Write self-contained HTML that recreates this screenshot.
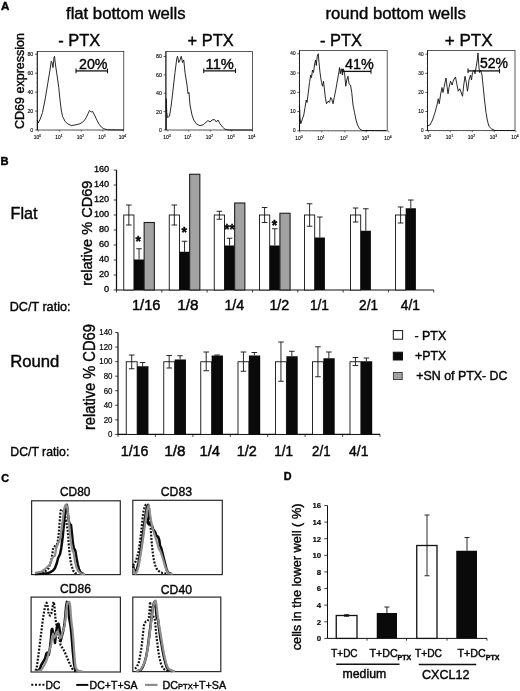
<!DOCTYPE html>
<html><head><meta charset="utf-8"><title>Figure</title>
<style>
html,body{margin:0;padding:0;background:#fff;}
body{width:520px;height:691px;overflow:hidden;font-family:"Liberation Sans",sans-serif;}
svg{display:block;font-family:"Liberation Sans",sans-serif;filter:grayscale(1) blur(0.35px);}
svg text{fill:#050505;stroke:#050505;stroke-width:0.4px;}
svg text.s{stroke-width:0.12px;}
</style></head><body>
<svg width="520" height="691" viewBox="0 0 520 691" fill="#111">
<rect width="520" height="691" fill="#fff"/>
<text x="1.00" y="10.30" font-size="10.8" font-weight="bold" textLength="8.40" lengthAdjust="spacingAndGlyphs">A</text>
<text x="66.00" y="19.30" font-size="16" textLength="119.50" lengthAdjust="spacingAndGlyphs">flat bottom wells</text>
<text x="325.50" y="19.30" font-size="16" textLength="140.30" lengthAdjust="spacingAndGlyphs">round bottom wells</text>
<text x="58.20" y="46.30" font-size="16" textLength="42.00" lengthAdjust="spacingAndGlyphs">- PTX</text>
<text x="187.60" y="45.50" font-size="16" textLength="46.00" lengthAdjust="spacingAndGlyphs">+ PTX</text>
<text x="320.00" y="45.80" font-size="16" textLength="42.00" lengthAdjust="spacingAndGlyphs">- PTX</text>
<text x="444.80" y="45.60" font-size="16" textLength="47.80" lengthAdjust="spacingAndGlyphs">+ PTX</text>
<text x="24.30" y="129.00" font-size="13" textLength="96.00" lengthAdjust="spacingAndGlyphs" transform="rotate(-90 24.30 129.00)">CD69 expression</text>
<rect x="37.30" y="51.50" width="86.45" height="78.50" fill="none" stroke="#333" stroke-width="0.8"/>
<line x1="37.30" y1="51.50" x2="37.30" y2="130.00" stroke="#1a1a1a" stroke-width="0.9"/>
<text x="33.30" y="56.21" font-size="5.3" text-anchor="end" class="s">80</text>
<line x1="35.10" y1="54.30" x2="37.30" y2="54.30" stroke="#111" stroke-width="0.7"/>
<line x1="36.30" y1="59.03" x2="37.30" y2="59.03" stroke="#555" stroke-width="0.4"/>
<line x1="36.30" y1="63.76" x2="37.30" y2="63.76" stroke="#555" stroke-width="0.4"/>
<line x1="36.30" y1="68.49" x2="37.30" y2="68.49" stroke="#555" stroke-width="0.4"/>
<text x="33.30" y="75.13" font-size="5.3" text-anchor="end" class="s">60</text>
<line x1="35.10" y1="73.22" x2="37.30" y2="73.22" stroke="#111" stroke-width="0.7"/>
<line x1="36.30" y1="77.96" x2="37.30" y2="77.96" stroke="#555" stroke-width="0.4"/>
<line x1="36.30" y1="82.69" x2="37.30" y2="82.69" stroke="#555" stroke-width="0.4"/>
<line x1="36.30" y1="87.42" x2="37.30" y2="87.42" stroke="#555" stroke-width="0.4"/>
<text x="33.30" y="94.06" font-size="5.3" text-anchor="end" class="s">40</text>
<line x1="35.10" y1="92.15" x2="37.30" y2="92.15" stroke="#111" stroke-width="0.7"/>
<line x1="36.30" y1="96.88" x2="37.30" y2="96.88" stroke="#555" stroke-width="0.4"/>
<line x1="36.30" y1="101.61" x2="37.30" y2="101.61" stroke="#555" stroke-width="0.4"/>
<line x1="36.30" y1="106.34" x2="37.30" y2="106.34" stroke="#555" stroke-width="0.4"/>
<text x="33.30" y="112.98" font-size="5.3" text-anchor="end" class="s">20</text>
<line x1="35.10" y1="111.08" x2="37.30" y2="111.08" stroke="#111" stroke-width="0.7"/>
<line x1="36.30" y1="115.81" x2="37.30" y2="115.81" stroke="#555" stroke-width="0.4"/>
<line x1="36.30" y1="120.54" x2="37.30" y2="120.54" stroke="#555" stroke-width="0.4"/>
<line x1="36.30" y1="125.27" x2="37.30" y2="125.27" stroke="#555" stroke-width="0.4"/>
<text x="33.30" y="131.91" font-size="5.3" text-anchor="end" class="s">0</text>
<line x1="35.10" y1="130.00" x2="37.30" y2="130.00" stroke="#111" stroke-width="0.7"/>
<text x="37.50" y="138.80" font-size="4.9" text-anchor="middle" class="s">10<tspan dy="-2" font-size="3.4">0</tspan></text>
<line x1="38.30" y1="130.00" x2="38.30" y2="131.60" stroke="#111" stroke-width="0.6"/>
<text x="59.00" y="138.80" font-size="4.9" text-anchor="middle" class="s">10<tspan dy="-2" font-size="3.4">1</tspan></text>
<line x1="59.80" y1="130.00" x2="59.80" y2="131.60" stroke="#111" stroke-width="0.6"/>
<text x="80.50" y="138.80" font-size="4.9" text-anchor="middle" class="s">10<tspan dy="-2" font-size="3.4">2</tspan></text>
<line x1="81.30" y1="130.00" x2="81.30" y2="131.60" stroke="#111" stroke-width="0.6"/>
<text x="102.00" y="138.80" font-size="4.9" text-anchor="middle" class="s">10<tspan dy="-2" font-size="3.4">3</tspan></text>
<line x1="102.80" y1="130.00" x2="102.80" y2="131.60" stroke="#111" stroke-width="0.6"/>
<text x="122.50" y="138.80" font-size="4.9" text-anchor="middle" class="s">10<tspan dy="-2" font-size="3.4">4</tspan></text>
<line x1="123.30" y1="130.00" x2="123.30" y2="131.60" stroke="#111" stroke-width="0.6"/>
<line x1="44.77" y1="130.00" x2="44.77" y2="130.90" stroke="#666" stroke-width="0.35"/>
<line x1="48.56" y1="130.00" x2="48.56" y2="130.90" stroke="#666" stroke-width="0.35"/>
<line x1="51.24" y1="130.00" x2="51.24" y2="130.90" stroke="#666" stroke-width="0.35"/>
<line x1="53.33" y1="130.00" x2="53.33" y2="130.90" stroke="#666" stroke-width="0.35"/>
<line x1="55.03" y1="130.00" x2="55.03" y2="130.90" stroke="#666" stroke-width="0.35"/>
<line x1="56.47" y1="130.00" x2="56.47" y2="130.90" stroke="#666" stroke-width="0.35"/>
<line x1="57.72" y1="130.00" x2="57.72" y2="130.90" stroke="#666" stroke-width="0.35"/>
<line x1="58.82" y1="130.00" x2="58.82" y2="130.90" stroke="#666" stroke-width="0.35"/>
<line x1="66.27" y1="130.00" x2="66.27" y2="130.90" stroke="#666" stroke-width="0.35"/>
<line x1="70.06" y1="130.00" x2="70.06" y2="130.90" stroke="#666" stroke-width="0.35"/>
<line x1="72.74" y1="130.00" x2="72.74" y2="130.90" stroke="#666" stroke-width="0.35"/>
<line x1="74.83" y1="130.00" x2="74.83" y2="130.90" stroke="#666" stroke-width="0.35"/>
<line x1="76.53" y1="130.00" x2="76.53" y2="130.90" stroke="#666" stroke-width="0.35"/>
<line x1="77.97" y1="130.00" x2="77.97" y2="130.90" stroke="#666" stroke-width="0.35"/>
<line x1="79.22" y1="130.00" x2="79.22" y2="130.90" stroke="#666" stroke-width="0.35"/>
<line x1="80.32" y1="130.00" x2="80.32" y2="130.90" stroke="#666" stroke-width="0.35"/>
<line x1="87.77" y1="130.00" x2="87.77" y2="130.90" stroke="#666" stroke-width="0.35"/>
<line x1="91.56" y1="130.00" x2="91.56" y2="130.90" stroke="#666" stroke-width="0.35"/>
<line x1="94.24" y1="130.00" x2="94.24" y2="130.90" stroke="#666" stroke-width="0.35"/>
<line x1="96.33" y1="130.00" x2="96.33" y2="130.90" stroke="#666" stroke-width="0.35"/>
<line x1="98.03" y1="130.00" x2="98.03" y2="130.90" stroke="#666" stroke-width="0.35"/>
<line x1="99.47" y1="130.00" x2="99.47" y2="130.90" stroke="#666" stroke-width="0.35"/>
<line x1="100.72" y1="130.00" x2="100.72" y2="130.90" stroke="#666" stroke-width="0.35"/>
<line x1="101.82" y1="130.00" x2="101.82" y2="130.90" stroke="#666" stroke-width="0.35"/>
<line x1="108.97" y1="130.00" x2="108.97" y2="130.90" stroke="#666" stroke-width="0.35"/>
<line x1="112.58" y1="130.00" x2="112.58" y2="130.90" stroke="#666" stroke-width="0.35"/>
<line x1="115.14" y1="130.00" x2="115.14" y2="130.90" stroke="#666" stroke-width="0.35"/>
<line x1="117.13" y1="130.00" x2="117.13" y2="130.90" stroke="#666" stroke-width="0.35"/>
<line x1="118.75" y1="130.00" x2="118.75" y2="130.90" stroke="#666" stroke-width="0.35"/>
<line x1="120.12" y1="130.00" x2="120.12" y2="130.90" stroke="#666" stroke-width="0.35"/>
<line x1="121.31" y1="130.00" x2="121.31" y2="130.90" stroke="#666" stroke-width="0.35"/>
<line x1="122.36" y1="130.00" x2="122.36" y2="130.90" stroke="#666" stroke-width="0.35"/>
<rect x="165.90" y="51.40" width="86.60" height="78.60" fill="none" stroke="#333" stroke-width="0.8"/>
<line x1="165.90" y1="51.40" x2="165.90" y2="130.00" stroke="#1a1a1a" stroke-width="0.9"/>
<text x="161.90" y="58.41" font-size="5.3" text-anchor="end" class="s">80</text>
<line x1="163.70" y1="56.50" x2="165.90" y2="56.50" stroke="#111" stroke-width="0.7"/>
<line x1="164.90" y1="61.09" x2="165.90" y2="61.09" stroke="#555" stroke-width="0.4"/>
<line x1="164.90" y1="65.69" x2="165.90" y2="65.69" stroke="#555" stroke-width="0.4"/>
<line x1="164.90" y1="70.28" x2="165.90" y2="70.28" stroke="#555" stroke-width="0.4"/>
<text x="161.90" y="76.78" font-size="5.3" text-anchor="end" class="s">60</text>
<line x1="163.70" y1="74.88" x2="165.90" y2="74.88" stroke="#111" stroke-width="0.7"/>
<line x1="164.90" y1="79.47" x2="165.90" y2="79.47" stroke="#555" stroke-width="0.4"/>
<line x1="164.90" y1="84.06" x2="165.90" y2="84.06" stroke="#555" stroke-width="0.4"/>
<line x1="164.90" y1="88.66" x2="165.90" y2="88.66" stroke="#555" stroke-width="0.4"/>
<text x="161.90" y="95.16" font-size="5.3" text-anchor="end" class="s">40</text>
<line x1="163.70" y1="93.25" x2="165.90" y2="93.25" stroke="#111" stroke-width="0.7"/>
<line x1="164.90" y1="97.84" x2="165.90" y2="97.84" stroke="#555" stroke-width="0.4"/>
<line x1="164.90" y1="102.44" x2="165.90" y2="102.44" stroke="#555" stroke-width="0.4"/>
<line x1="164.90" y1="107.03" x2="165.90" y2="107.03" stroke="#555" stroke-width="0.4"/>
<text x="161.90" y="113.53" font-size="5.3" text-anchor="end" class="s">20</text>
<line x1="163.70" y1="111.62" x2="165.90" y2="111.62" stroke="#111" stroke-width="0.7"/>
<line x1="164.90" y1="116.22" x2="165.90" y2="116.22" stroke="#555" stroke-width="0.4"/>
<line x1="164.90" y1="120.81" x2="165.90" y2="120.81" stroke="#555" stroke-width="0.4"/>
<line x1="164.90" y1="125.41" x2="165.90" y2="125.41" stroke="#555" stroke-width="0.4"/>
<text x="161.90" y="131.91" font-size="5.3" text-anchor="end" class="s">0</text>
<line x1="163.70" y1="130.00" x2="165.90" y2="130.00" stroke="#111" stroke-width="0.7"/>
<text x="167.00" y="138.80" font-size="4.9" text-anchor="middle" class="s">10<tspan dy="-2" font-size="3.4">0</tspan></text>
<line x1="167.80" y1="130.00" x2="167.80" y2="131.60" stroke="#111" stroke-width="0.6"/>
<text x="188.00" y="138.80" font-size="4.9" text-anchor="middle" class="s">10<tspan dy="-2" font-size="3.4">1</tspan></text>
<line x1="188.80" y1="130.00" x2="188.80" y2="131.60" stroke="#111" stroke-width="0.6"/>
<text x="209.50" y="138.80" font-size="4.9" text-anchor="middle" class="s">10<tspan dy="-2" font-size="3.4">2</tspan></text>
<line x1="210.30" y1="130.00" x2="210.30" y2="131.60" stroke="#111" stroke-width="0.6"/>
<text x="231.00" y="138.80" font-size="4.9" text-anchor="middle" class="s">10<tspan dy="-2" font-size="3.4">3</tspan></text>
<line x1="231.80" y1="130.00" x2="231.80" y2="131.60" stroke="#111" stroke-width="0.6"/>
<text x="251.75" y="138.80" font-size="4.9" text-anchor="middle" class="s">10<tspan dy="-2" font-size="3.4">4</tspan></text>
<line x1="252.55" y1="130.00" x2="252.55" y2="131.60" stroke="#111" stroke-width="0.6"/>
<line x1="174.12" y1="130.00" x2="174.12" y2="130.90" stroke="#666" stroke-width="0.35"/>
<line x1="177.82" y1="130.00" x2="177.82" y2="130.90" stroke="#666" stroke-width="0.35"/>
<line x1="180.44" y1="130.00" x2="180.44" y2="130.90" stroke="#666" stroke-width="0.35"/>
<line x1="182.48" y1="130.00" x2="182.48" y2="130.90" stroke="#666" stroke-width="0.35"/>
<line x1="184.14" y1="130.00" x2="184.14" y2="130.90" stroke="#666" stroke-width="0.35"/>
<line x1="185.55" y1="130.00" x2="185.55" y2="130.90" stroke="#666" stroke-width="0.35"/>
<line x1="186.76" y1="130.00" x2="186.76" y2="130.90" stroke="#666" stroke-width="0.35"/>
<line x1="187.84" y1="130.00" x2="187.84" y2="130.90" stroke="#666" stroke-width="0.35"/>
<line x1="195.27" y1="130.00" x2="195.27" y2="130.90" stroke="#666" stroke-width="0.35"/>
<line x1="199.06" y1="130.00" x2="199.06" y2="130.90" stroke="#666" stroke-width="0.35"/>
<line x1="201.74" y1="130.00" x2="201.74" y2="130.90" stroke="#666" stroke-width="0.35"/>
<line x1="203.83" y1="130.00" x2="203.83" y2="130.90" stroke="#666" stroke-width="0.35"/>
<line x1="205.53" y1="130.00" x2="205.53" y2="130.90" stroke="#666" stroke-width="0.35"/>
<line x1="206.97" y1="130.00" x2="206.97" y2="130.90" stroke="#666" stroke-width="0.35"/>
<line x1="208.22" y1="130.00" x2="208.22" y2="130.90" stroke="#666" stroke-width="0.35"/>
<line x1="209.32" y1="130.00" x2="209.32" y2="130.90" stroke="#666" stroke-width="0.35"/>
<line x1="216.77" y1="130.00" x2="216.77" y2="130.90" stroke="#666" stroke-width="0.35"/>
<line x1="220.56" y1="130.00" x2="220.56" y2="130.90" stroke="#666" stroke-width="0.35"/>
<line x1="223.24" y1="130.00" x2="223.24" y2="130.90" stroke="#666" stroke-width="0.35"/>
<line x1="225.33" y1="130.00" x2="225.33" y2="130.90" stroke="#666" stroke-width="0.35"/>
<line x1="227.03" y1="130.00" x2="227.03" y2="130.90" stroke="#666" stroke-width="0.35"/>
<line x1="228.47" y1="130.00" x2="228.47" y2="130.90" stroke="#666" stroke-width="0.35"/>
<line x1="229.72" y1="130.00" x2="229.72" y2="130.90" stroke="#666" stroke-width="0.35"/>
<line x1="230.82" y1="130.00" x2="230.82" y2="130.90" stroke="#666" stroke-width="0.35"/>
<line x1="238.05" y1="130.00" x2="238.05" y2="130.90" stroke="#666" stroke-width="0.35"/>
<line x1="241.70" y1="130.00" x2="241.70" y2="130.90" stroke="#666" stroke-width="0.35"/>
<line x1="244.29" y1="130.00" x2="244.29" y2="130.90" stroke="#666" stroke-width="0.35"/>
<line x1="246.30" y1="130.00" x2="246.30" y2="130.90" stroke="#666" stroke-width="0.35"/>
<line x1="247.95" y1="130.00" x2="247.95" y2="130.90" stroke="#666" stroke-width="0.35"/>
<line x1="249.34" y1="130.00" x2="249.34" y2="130.90" stroke="#666" stroke-width="0.35"/>
<line x1="250.54" y1="130.00" x2="250.54" y2="130.90" stroke="#666" stroke-width="0.35"/>
<line x1="251.60" y1="130.00" x2="251.60" y2="130.90" stroke="#666" stroke-width="0.35"/>
<rect x="299.50" y="50.40" width="87.70" height="80.40" fill="none" stroke="#333" stroke-width="0.8"/>
<line x1="299.50" y1="50.40" x2="299.50" y2="130.80" stroke="#1a1a1a" stroke-width="0.9"/>
<text x="295.50" y="55.49" font-size="4.7" text-anchor="end" class="s">40</text>
<line x1="297.30" y1="53.80" x2="299.50" y2="53.80" stroke="#111" stroke-width="0.7"/>
<line x1="298.50" y1="58.61" x2="299.50" y2="58.61" stroke="#555" stroke-width="0.4"/>
<line x1="298.50" y1="63.42" x2="299.50" y2="63.42" stroke="#555" stroke-width="0.4"/>
<line x1="298.50" y1="68.24" x2="299.50" y2="68.24" stroke="#555" stroke-width="0.4"/>
<text x="295.50" y="74.74" font-size="4.7" text-anchor="end" class="s">30</text>
<line x1="297.30" y1="73.05" x2="299.50" y2="73.05" stroke="#111" stroke-width="0.7"/>
<line x1="298.50" y1="77.86" x2="299.50" y2="77.86" stroke="#555" stroke-width="0.4"/>
<line x1="298.50" y1="82.67" x2="299.50" y2="82.67" stroke="#555" stroke-width="0.4"/>
<line x1="298.50" y1="87.49" x2="299.50" y2="87.49" stroke="#555" stroke-width="0.4"/>
<text x="295.50" y="93.99" font-size="4.7" text-anchor="end" class="s">20</text>
<line x1="297.30" y1="92.30" x2="299.50" y2="92.30" stroke="#111" stroke-width="0.7"/>
<line x1="298.50" y1="97.11" x2="299.50" y2="97.11" stroke="#555" stroke-width="0.4"/>
<line x1="298.50" y1="101.93" x2="299.50" y2="101.93" stroke="#555" stroke-width="0.4"/>
<line x1="298.50" y1="106.74" x2="299.50" y2="106.74" stroke="#555" stroke-width="0.4"/>
<text x="295.50" y="113.24" font-size="4.7" text-anchor="end" class="s">10</text>
<line x1="297.30" y1="111.55" x2="299.50" y2="111.55" stroke="#111" stroke-width="0.7"/>
<line x1="298.50" y1="116.36" x2="299.50" y2="116.36" stroke="#555" stroke-width="0.4"/>
<line x1="298.50" y1="121.18" x2="299.50" y2="121.18" stroke="#555" stroke-width="0.4"/>
<line x1="298.50" y1="125.99" x2="299.50" y2="125.99" stroke="#555" stroke-width="0.4"/>
<text x="295.50" y="132.49" font-size="4.7" text-anchor="end" class="s">0</text>
<line x1="297.30" y1="130.80" x2="299.50" y2="130.80" stroke="#111" stroke-width="0.7"/>
<text x="299.00" y="139.60" font-size="4.9" text-anchor="middle" class="s">10<tspan dy="-2" font-size="3.4">0</tspan></text>
<line x1="299.80" y1="130.80" x2="299.80" y2="132.40" stroke="#111" stroke-width="0.6"/>
<text x="321.00" y="139.60" font-size="4.9" text-anchor="middle" class="s">10<tspan dy="-2" font-size="3.4">1</tspan></text>
<line x1="321.80" y1="130.80" x2="321.80" y2="132.40" stroke="#111" stroke-width="0.6"/>
<text x="344.00" y="139.60" font-size="4.9" text-anchor="middle" class="s">10<tspan dy="-2" font-size="3.4">2</tspan></text>
<line x1="344.80" y1="130.80" x2="344.80" y2="132.40" stroke="#111" stroke-width="0.6"/>
<text x="365.50" y="139.60" font-size="4.9" text-anchor="middle" class="s">10<tspan dy="-2" font-size="3.4">3</tspan></text>
<line x1="366.30" y1="130.80" x2="366.30" y2="132.40" stroke="#111" stroke-width="0.6"/>
<text x="388.00" y="139.60" font-size="4.9" text-anchor="middle" class="s">10<tspan dy="-2" font-size="3.4">4</tspan></text>
<line x1="388.80" y1="130.80" x2="388.80" y2="132.40" stroke="#111" stroke-width="0.6"/>
<line x1="306.42" y1="130.80" x2="306.42" y2="131.70" stroke="#666" stroke-width="0.35"/>
<line x1="310.30" y1="130.80" x2="310.30" y2="131.70" stroke="#666" stroke-width="0.35"/>
<line x1="313.05" y1="130.80" x2="313.05" y2="131.70" stroke="#666" stroke-width="0.35"/>
<line x1="315.18" y1="130.80" x2="315.18" y2="131.70" stroke="#666" stroke-width="0.35"/>
<line x1="316.92" y1="130.80" x2="316.92" y2="131.70" stroke="#666" stroke-width="0.35"/>
<line x1="318.39" y1="130.80" x2="318.39" y2="131.70" stroke="#666" stroke-width="0.35"/>
<line x1="319.67" y1="130.80" x2="319.67" y2="131.70" stroke="#666" stroke-width="0.35"/>
<line x1="320.79" y1="130.80" x2="320.79" y2="131.70" stroke="#666" stroke-width="0.35"/>
<line x1="328.72" y1="130.80" x2="328.72" y2="131.70" stroke="#666" stroke-width="0.35"/>
<line x1="332.77" y1="130.80" x2="332.77" y2="131.70" stroke="#666" stroke-width="0.35"/>
<line x1="335.65" y1="130.80" x2="335.65" y2="131.70" stroke="#666" stroke-width="0.35"/>
<line x1="337.88" y1="130.80" x2="337.88" y2="131.70" stroke="#666" stroke-width="0.35"/>
<line x1="339.70" y1="130.80" x2="339.70" y2="131.70" stroke="#666" stroke-width="0.35"/>
<line x1="341.24" y1="130.80" x2="341.24" y2="131.70" stroke="#666" stroke-width="0.35"/>
<line x1="342.57" y1="130.80" x2="342.57" y2="131.70" stroke="#666" stroke-width="0.35"/>
<line x1="343.75" y1="130.80" x2="343.75" y2="131.70" stroke="#666" stroke-width="0.35"/>
<line x1="351.27" y1="130.80" x2="351.27" y2="131.70" stroke="#666" stroke-width="0.35"/>
<line x1="355.06" y1="130.80" x2="355.06" y2="131.70" stroke="#666" stroke-width="0.35"/>
<line x1="357.74" y1="130.80" x2="357.74" y2="131.70" stroke="#666" stroke-width="0.35"/>
<line x1="359.83" y1="130.80" x2="359.83" y2="131.70" stroke="#666" stroke-width="0.35"/>
<line x1="361.53" y1="130.80" x2="361.53" y2="131.70" stroke="#666" stroke-width="0.35"/>
<line x1="362.97" y1="130.80" x2="362.97" y2="131.70" stroke="#666" stroke-width="0.35"/>
<line x1="364.22" y1="130.80" x2="364.22" y2="131.70" stroke="#666" stroke-width="0.35"/>
<line x1="365.32" y1="130.80" x2="365.32" y2="131.70" stroke="#666" stroke-width="0.35"/>
<line x1="373.07" y1="130.80" x2="373.07" y2="131.70" stroke="#666" stroke-width="0.35"/>
<line x1="377.04" y1="130.80" x2="377.04" y2="131.70" stroke="#666" stroke-width="0.35"/>
<line x1="379.85" y1="130.80" x2="379.85" y2="131.70" stroke="#666" stroke-width="0.35"/>
<line x1="382.03" y1="130.80" x2="382.03" y2="131.70" stroke="#666" stroke-width="0.35"/>
<line x1="383.81" y1="130.80" x2="383.81" y2="131.70" stroke="#666" stroke-width="0.35"/>
<line x1="385.31" y1="130.80" x2="385.31" y2="131.70" stroke="#666" stroke-width="0.35"/>
<line x1="386.62" y1="130.80" x2="386.62" y2="131.70" stroke="#666" stroke-width="0.35"/>
<line x1="387.77" y1="130.80" x2="387.77" y2="131.70" stroke="#666" stroke-width="0.35"/>
<rect x="427.50" y="50.40" width="87.50" height="80.20" fill="none" stroke="#333" stroke-width="0.8"/>
<line x1="427.50" y1="50.40" x2="427.50" y2="130.60" stroke="#1a1a1a" stroke-width="0.9"/>
<text x="423.50" y="55.89" font-size="4.7" text-anchor="end" class="s">40</text>
<line x1="425.30" y1="54.20" x2="427.50" y2="54.20" stroke="#111" stroke-width="0.7"/>
<line x1="426.50" y1="58.98" x2="427.50" y2="58.98" stroke="#555" stroke-width="0.4"/>
<line x1="426.50" y1="63.75" x2="427.50" y2="63.75" stroke="#555" stroke-width="0.4"/>
<line x1="426.50" y1="68.53" x2="427.50" y2="68.53" stroke="#555" stroke-width="0.4"/>
<text x="423.50" y="74.99" font-size="4.7" text-anchor="end" class="s">30</text>
<line x1="425.30" y1="73.30" x2="427.50" y2="73.30" stroke="#111" stroke-width="0.7"/>
<line x1="426.50" y1="78.08" x2="427.50" y2="78.08" stroke="#555" stroke-width="0.4"/>
<line x1="426.50" y1="82.85" x2="427.50" y2="82.85" stroke="#555" stroke-width="0.4"/>
<line x1="426.50" y1="87.62" x2="427.50" y2="87.62" stroke="#555" stroke-width="0.4"/>
<text x="423.50" y="94.09" font-size="4.7" text-anchor="end" class="s">20</text>
<line x1="425.30" y1="92.40" x2="427.50" y2="92.40" stroke="#111" stroke-width="0.7"/>
<line x1="426.50" y1="97.18" x2="427.50" y2="97.18" stroke="#555" stroke-width="0.4"/>
<line x1="426.50" y1="101.95" x2="427.50" y2="101.95" stroke="#555" stroke-width="0.4"/>
<line x1="426.50" y1="106.73" x2="427.50" y2="106.73" stroke="#555" stroke-width="0.4"/>
<text x="423.50" y="113.19" font-size="4.7" text-anchor="end" class="s">10</text>
<line x1="425.30" y1="111.50" x2="427.50" y2="111.50" stroke="#111" stroke-width="0.7"/>
<line x1="426.50" y1="116.28" x2="427.50" y2="116.28" stroke="#555" stroke-width="0.4"/>
<line x1="426.50" y1="121.05" x2="427.50" y2="121.05" stroke="#555" stroke-width="0.4"/>
<line x1="426.50" y1="125.83" x2="427.50" y2="125.83" stroke="#555" stroke-width="0.4"/>
<text x="423.50" y="132.29" font-size="4.7" text-anchor="end" class="s">0</text>
<line x1="425.30" y1="130.60" x2="427.50" y2="130.60" stroke="#111" stroke-width="0.7"/>
<text x="427.50" y="139.40" font-size="4.9" text-anchor="middle" class="s">10<tspan dy="-2" font-size="3.4">0</tspan></text>
<line x1="428.30" y1="130.60" x2="428.30" y2="132.20" stroke="#111" stroke-width="0.6"/>
<text x="449.50" y="139.40" font-size="4.9" text-anchor="middle" class="s">10<tspan dy="-2" font-size="3.4">1</tspan></text>
<line x1="450.30" y1="130.60" x2="450.30" y2="132.20" stroke="#111" stroke-width="0.6"/>
<text x="471.50" y="139.40" font-size="4.9" text-anchor="middle" class="s">10<tspan dy="-2" font-size="3.4">2</tspan></text>
<line x1="472.30" y1="130.60" x2="472.30" y2="132.20" stroke="#111" stroke-width="0.6"/>
<text x="493.50" y="139.40" font-size="4.9" text-anchor="middle" class="s">10<tspan dy="-2" font-size="3.4">3</tspan></text>
<line x1="494.30" y1="130.60" x2="494.30" y2="132.20" stroke="#111" stroke-width="0.6"/>
<text x="515.00" y="139.40" font-size="4.9" text-anchor="middle" class="s">10<tspan dy="-2" font-size="3.4">4</tspan></text>
<line x1="515.80" y1="130.60" x2="515.80" y2="132.20" stroke="#111" stroke-width="0.6"/>
<line x1="434.92" y1="130.60" x2="434.92" y2="131.50" stroke="#666" stroke-width="0.35"/>
<line x1="438.80" y1="130.60" x2="438.80" y2="131.50" stroke="#666" stroke-width="0.35"/>
<line x1="441.55" y1="130.60" x2="441.55" y2="131.50" stroke="#666" stroke-width="0.35"/>
<line x1="443.68" y1="130.60" x2="443.68" y2="131.50" stroke="#666" stroke-width="0.35"/>
<line x1="445.42" y1="130.60" x2="445.42" y2="131.50" stroke="#666" stroke-width="0.35"/>
<line x1="446.89" y1="130.60" x2="446.89" y2="131.50" stroke="#666" stroke-width="0.35"/>
<line x1="448.17" y1="130.60" x2="448.17" y2="131.50" stroke="#666" stroke-width="0.35"/>
<line x1="449.29" y1="130.60" x2="449.29" y2="131.50" stroke="#666" stroke-width="0.35"/>
<line x1="456.92" y1="130.60" x2="456.92" y2="131.50" stroke="#666" stroke-width="0.35"/>
<line x1="460.80" y1="130.60" x2="460.80" y2="131.50" stroke="#666" stroke-width="0.35"/>
<line x1="463.55" y1="130.60" x2="463.55" y2="131.50" stroke="#666" stroke-width="0.35"/>
<line x1="465.68" y1="130.60" x2="465.68" y2="131.50" stroke="#666" stroke-width="0.35"/>
<line x1="467.42" y1="130.60" x2="467.42" y2="131.50" stroke="#666" stroke-width="0.35"/>
<line x1="468.89" y1="130.60" x2="468.89" y2="131.50" stroke="#666" stroke-width="0.35"/>
<line x1="470.17" y1="130.60" x2="470.17" y2="131.50" stroke="#666" stroke-width="0.35"/>
<line x1="471.29" y1="130.60" x2="471.29" y2="131.50" stroke="#666" stroke-width="0.35"/>
<line x1="478.92" y1="130.60" x2="478.92" y2="131.50" stroke="#666" stroke-width="0.35"/>
<line x1="482.80" y1="130.60" x2="482.80" y2="131.50" stroke="#666" stroke-width="0.35"/>
<line x1="485.55" y1="130.60" x2="485.55" y2="131.50" stroke="#666" stroke-width="0.35"/>
<line x1="487.68" y1="130.60" x2="487.68" y2="131.50" stroke="#666" stroke-width="0.35"/>
<line x1="489.42" y1="130.60" x2="489.42" y2="131.50" stroke="#666" stroke-width="0.35"/>
<line x1="490.89" y1="130.60" x2="490.89" y2="131.50" stroke="#666" stroke-width="0.35"/>
<line x1="492.17" y1="130.60" x2="492.17" y2="131.50" stroke="#666" stroke-width="0.35"/>
<line x1="493.29" y1="130.60" x2="493.29" y2="131.50" stroke="#666" stroke-width="0.35"/>
<line x1="500.77" y1="130.60" x2="500.77" y2="131.50" stroke="#666" stroke-width="0.35"/>
<line x1="504.56" y1="130.60" x2="504.56" y2="131.50" stroke="#666" stroke-width="0.35"/>
<line x1="507.24" y1="130.60" x2="507.24" y2="131.50" stroke="#666" stroke-width="0.35"/>
<line x1="509.33" y1="130.60" x2="509.33" y2="131.50" stroke="#666" stroke-width="0.35"/>
<line x1="511.03" y1="130.60" x2="511.03" y2="131.50" stroke="#666" stroke-width="0.35"/>
<line x1="512.47" y1="130.60" x2="512.47" y2="131.50" stroke="#666" stroke-width="0.35"/>
<line x1="513.72" y1="130.60" x2="513.72" y2="131.50" stroke="#666" stroke-width="0.35"/>
<line x1="514.82" y1="130.60" x2="514.82" y2="131.50" stroke="#666" stroke-width="0.35"/>
<path d="M37.50 130.00 L37.50 120.00 L38.25 123.00 L39.00 121.50 L40.00 119.50 L42.50 112.50 L45.00 100.00 L47.50 85.00 L50.00 70.00 L51.25 61.25 L52.00 62.50 L53.00 67.50 L54.00 57.50 L54.50 56.25 L55.50 65.00 L57.00 75.00 L58.75 87.50 L60.00 100.00 L61.25 110.00 L62.50 116.25 L65.00 121.25 L67.50 123.75 L71.25 125.50 L75.00 125.00 L80.00 123.75 L83.75 121.25 L86.25 117.50 L88.00 113.75 L89.50 110.50 L91.25 112.00 L92.50 111.25 L94.50 115.00 L96.25 118.75 L98.75 123.75 L101.25 127.00 L103.75 128.75 L107.50 129.75 L123.75 130.00" fill="none" stroke="#111" stroke-width="0.9" stroke-linejoin="round"/>
<path d="M166.25 130.00 L166.25 98.75 L166.75 112.50 L167.50 117.50 L169.50 116.25 L171.25 105.00 L173.00 90.00 L175.00 72.50 L176.75 58.75 L177.50 56.25 L178.75 62.50 L180.00 60.00 L181.25 56.25 L182.50 62.50 L183.75 60.00 L185.00 72.50 L187.00 85.00 L188.00 93.75 L189.00 92.50 L190.00 105.00 L192.00 115.00 L193.75 120.00 L196.25 123.75 L200.00 125.75 L203.75 124.50 L206.25 122.00 L208.00 120.50 L210.00 122.00 L212.00 120.00 L214.50 119.50 L216.25 122.00 L218.00 120.00 L220.00 123.75 L222.50 127.00 L225.00 129.25 L228.75 130.00 L252.50 130.00" fill="none" stroke="#111" stroke-width="0.9" stroke-linejoin="round"/>
<path d="M299.50 130.50 L299.50 105.00 L300.00 117.50 L300.75 123.75 L302.00 120.00 L303.75 115.00 L305.00 107.50 L306.25 100.00 L307.00 102.50 L308.00 95.00 L309.50 82.50 L310.75 75.00 L311.50 77.50 L312.50 70.00 L313.50 72.50 L314.50 65.00 L315.50 60.00 L316.25 65.50 L317.25 56.25 L318.25 53.75 L319.00 62.50 L320.00 72.50 L321.50 82.50 L322.50 86.25 L323.50 81.25 L324.50 90.00 L325.50 98.75 L326.50 103.75 L328.00 101.25 L329.50 102.50 L330.75 97.50 L331.75 98.75 L333.00 103.75 L334.25 97.50 L335.75 90.00 L337.50 80.00 L339.00 71.25 L339.50 67.50 L340.25 73.75 L341.25 68.75 L342.50 75.00 L343.25 68.75 L344.50 72.50 L345.75 86.25 L346.75 80.00 L348.00 76.25 L349.00 83.75 L350.50 85.00 L351.75 92.50 L353.00 105.00 L354.50 112.50 L356.00 120.00 L357.50 125.00 L359.50 128.75 L362.50 130.50 L386.25 130.50" fill="none" stroke="#111" stroke-width="0.9" stroke-linejoin="round"/>
<path d="M427.50 130.50 L427.50 125.75 L430.00 125.00 L432.50 120.00 L435.00 112.50 L437.00 105.00 L438.25 98.75 L439.25 103.75 L440.50 95.00 L442.00 87.50 L443.00 92.50 L444.00 87.50 L445.00 82.50 L446.00 78.00 L447.00 86.25 L448.00 93.75 L449.00 87.50 L450.50 81.25 L452.00 85.00 L453.50 80.00 L455.50 77.00 L456.75 83.75 L458.25 91.25 L459.75 88.75 L461.00 92.00 L462.50 96.25 L463.75 85.00 L465.00 76.25 L466.25 82.50 L467.50 91.25 L469.00 80.00 L470.50 75.00 L471.50 80.00 L472.50 72.50 L474.00 70.00 L475.00 73.75 L476.25 66.25 L477.25 60.00 L478.00 53.00 L478.75 65.00 L479.50 72.50 L480.50 70.00 L482.00 75.00 L483.00 85.00 L484.50 100.00 L486.00 112.50 L487.50 121.25 L489.00 126.25 L491.25 128.75 L495.00 130.50 L515.00 130.50" fill="none" stroke="#111" stroke-width="0.9" stroke-linejoin="round"/>
<line x1="76.00" y1="70.90" x2="107.50" y2="70.90" stroke="#111" stroke-width="1.3"/>
<line x1="76.00" y1="68.60" x2="76.00" y2="73.20" stroke="#111" stroke-width="1.1"/>
<line x1="107.50" y1="68.60" x2="107.50" y2="73.20" stroke="#111" stroke-width="1.1"/>
<text x="79.00" y="68.80" font-size="15.5" textLength="28.50" lengthAdjust="spacingAndGlyphs">20%</text>
<line x1="203.75" y1="70.80" x2="235.50" y2="70.80" stroke="#111" stroke-width="1.3"/>
<line x1="203.75" y1="68.50" x2="203.75" y2="73.10" stroke="#111" stroke-width="1.1"/>
<line x1="235.50" y1="68.50" x2="235.50" y2="73.10" stroke="#111" stroke-width="1.1"/>
<text x="205.60" y="68.80" font-size="15.5" textLength="28.20" lengthAdjust="spacingAndGlyphs">11%</text>
<line x1="342.50" y1="71.40" x2="371.00" y2="71.40" stroke="#111" stroke-width="1.3"/>
<line x1="342.50" y1="69.10" x2="342.50" y2="73.70" stroke="#111" stroke-width="1.1"/>
<line x1="371.00" y1="69.10" x2="371.00" y2="73.70" stroke="#111" stroke-width="1.1"/>
<text x="345.00" y="68.80" font-size="15.5" textLength="28.70" lengthAdjust="spacingAndGlyphs">41%</text>
<line x1="468.00" y1="70.90" x2="499.50" y2="70.90" stroke="#111" stroke-width="1.3"/>
<line x1="468.00" y1="68.60" x2="468.00" y2="73.20" stroke="#111" stroke-width="1.1"/>
<line x1="499.50" y1="68.60" x2="499.50" y2="73.20" stroke="#111" stroke-width="1.1"/>
<text x="480.00" y="68.20" font-size="15.5" textLength="28.00" lengthAdjust="spacingAndGlyphs">52%</text>
<text x="0.50" y="164.50" font-size="11.2" font-weight="bold">B</text>
<text x="10.50" y="218.80" font-size="16.3" textLength="27.00" lengthAdjust="spacingAndGlyphs">Flat</text>
<text x="10.20" y="366.70" font-size="16.5" textLength="49.20" lengthAdjust="spacingAndGlyphs">Round</text>
<text x="9.70" y="311.00" font-size="13" textLength="60.80" lengthAdjust="spacingAndGlyphs">DC/T ratio:</text>
<text x="10.30" y="456.20" font-size="13" textLength="59.00" lengthAdjust="spacingAndGlyphs">DC/T ratio:</text>
<text x="92.00" y="285.70" font-size="15.2" textLength="105.00" lengthAdjust="spacingAndGlyphs" transform="rotate(-90 92.00 285.70)">relative % CD69</text>
<text x="95.40" y="430.00" font-size="16" textLength="105.80" lengthAdjust="spacingAndGlyphs" transform="rotate(-90 95.40 430.00)">relative % CD69</text>
<line x1="116.50" y1="170.00" x2="116.50" y2="290.00" stroke="#111" stroke-width="1.25"/>
<line x1="116.50" y1="290.00" x2="433.75" y2="290.00" stroke="#111" stroke-width="1.15"/>
<line x1="113.70" y1="290.00" x2="116.50" y2="290.00" stroke="#111" stroke-width="0.8"/>
<text x="109.20" y="292.40" font-size="8.6" text-anchor="end" textLength="5.10" lengthAdjust="spacingAndGlyphs" style="stroke-width:0.3px">0</text>
<line x1="113.70" y1="275.00" x2="116.50" y2="275.00" stroke="#111" stroke-width="0.8"/>
<text x="109.20" y="277.40" font-size="8.6" text-anchor="end" textLength="10.20" lengthAdjust="spacingAndGlyphs" style="stroke-width:0.3px">20</text>
<line x1="113.70" y1="260.00" x2="116.50" y2="260.00" stroke="#111" stroke-width="0.8"/>
<text x="109.20" y="262.40" font-size="8.6" text-anchor="end" textLength="10.20" lengthAdjust="spacingAndGlyphs" style="stroke-width:0.3px">40</text>
<line x1="113.70" y1="245.00" x2="116.50" y2="245.00" stroke="#111" stroke-width="0.8"/>
<text x="109.20" y="247.40" font-size="8.6" text-anchor="end" textLength="10.20" lengthAdjust="spacingAndGlyphs" style="stroke-width:0.3px">60</text>
<line x1="113.70" y1="230.00" x2="116.50" y2="230.00" stroke="#111" stroke-width="0.8"/>
<text x="109.20" y="232.40" font-size="8.6" text-anchor="end" textLength="10.20" lengthAdjust="spacingAndGlyphs" style="stroke-width:0.3px">80</text>
<line x1="113.70" y1="215.00" x2="116.50" y2="215.00" stroke="#111" stroke-width="0.8"/>
<text x="109.20" y="217.40" font-size="8.6" text-anchor="end" textLength="15.30" lengthAdjust="spacingAndGlyphs" style="stroke-width:0.3px">100</text>
<line x1="113.70" y1="200.00" x2="116.50" y2="200.00" stroke="#111" stroke-width="0.8"/>
<text x="109.20" y="202.40" font-size="8.6" text-anchor="end" textLength="15.30" lengthAdjust="spacingAndGlyphs" style="stroke-width:0.3px">120</text>
<line x1="113.70" y1="185.00" x2="116.50" y2="185.00" stroke="#111" stroke-width="0.8"/>
<text x="109.20" y="187.40" font-size="8.6" text-anchor="end" textLength="15.30" lengthAdjust="spacingAndGlyphs" style="stroke-width:0.3px">140</text>
<line x1="113.70" y1="170.00" x2="116.50" y2="170.00" stroke="#111" stroke-width="0.8"/>
<text x="109.20" y="172.40" font-size="8.6" text-anchor="end" textLength="15.30" lengthAdjust="spacingAndGlyphs" style="stroke-width:0.3px">160</text>
<line x1="116.50" y1="290.00" x2="116.50" y2="292.50" stroke="#111" stroke-width="0.8"/>
<line x1="161.82" y1="290.00" x2="161.82" y2="292.50" stroke="#111" stroke-width="0.8"/>
<line x1="207.14" y1="290.00" x2="207.14" y2="292.50" stroke="#111" stroke-width="0.8"/>
<line x1="252.46" y1="290.00" x2="252.46" y2="292.50" stroke="#111" stroke-width="0.8"/>
<line x1="297.79" y1="290.00" x2="297.79" y2="292.50" stroke="#111" stroke-width="0.8"/>
<line x1="343.11" y1="290.00" x2="343.11" y2="292.50" stroke="#111" stroke-width="0.8"/>
<line x1="388.43" y1="290.00" x2="388.43" y2="292.50" stroke="#111" stroke-width="0.8"/>
<line x1="433.75" y1="290.00" x2="433.75" y2="292.50" stroke="#111" stroke-width="0.8"/>
<rect x="123.75" y="215.00" width="10.20" height="75.00" fill="#fff" stroke="#111" stroke-width="0.9"/>
<line x1="128.85" y1="205.00" x2="128.85" y2="225.00" stroke="#111" stroke-width="0.9"/>
<line x1="126.05" y1="205.00" x2="131.65" y2="205.00" stroke="#111" stroke-width="0.9"/>
<line x1="126.05" y1="225.00" x2="131.65" y2="225.00" stroke="#111" stroke-width="0.9"/>
<rect x="133.95" y="259.50" width="10.20" height="30.50" fill="#0a0a0a"/>
<line x1="139.05" y1="248.75" x2="139.05" y2="259.50" stroke="#111" stroke-width="0.9"/>
<line x1="136.25" y1="248.75" x2="141.85" y2="248.75" stroke="#111" stroke-width="0.9"/>
<rect x="144.15" y="222.50" width="10.20" height="67.50" fill="#a2a2a2" stroke="#1e1e1e" stroke-width="1.1"/>
<rect x="169.25" y="215.00" width="10.20" height="75.00" fill="#fff" stroke="#111" stroke-width="0.9"/>
<line x1="174.35" y1="205.00" x2="174.35" y2="225.00" stroke="#111" stroke-width="0.9"/>
<line x1="171.55" y1="205.00" x2="177.15" y2="205.00" stroke="#111" stroke-width="0.9"/>
<line x1="171.55" y1="225.00" x2="177.15" y2="225.00" stroke="#111" stroke-width="0.9"/>
<rect x="179.45" y="251.75" width="10.20" height="38.25" fill="#0a0a0a"/>
<line x1="184.55" y1="241.25" x2="184.55" y2="251.75" stroke="#111" stroke-width="0.9"/>
<line x1="181.75" y1="241.25" x2="187.35" y2="241.25" stroke="#111" stroke-width="0.9"/>
<rect x="189.65" y="174.25" width="10.20" height="115.75" fill="#a2a2a2" stroke="#1e1e1e" stroke-width="1.1"/>
<rect x="214.25" y="215.00" width="10.20" height="75.00" fill="#fff" stroke="#111" stroke-width="0.9"/>
<line x1="219.35" y1="211.25" x2="219.35" y2="219.25" stroke="#111" stroke-width="0.9"/>
<line x1="216.55" y1="211.25" x2="222.15" y2="211.25" stroke="#111" stroke-width="0.9"/>
<line x1="216.55" y1="219.25" x2="222.15" y2="219.25" stroke="#111" stroke-width="0.9"/>
<rect x="224.45" y="245.50" width="10.20" height="44.50" fill="#0a0a0a"/>
<line x1="229.55" y1="238.25" x2="229.55" y2="245.50" stroke="#111" stroke-width="0.9"/>
<line x1="226.75" y1="238.25" x2="232.35" y2="238.25" stroke="#111" stroke-width="0.9"/>
<rect x="234.65" y="203.00" width="10.20" height="87.00" fill="#a2a2a2" stroke="#1e1e1e" stroke-width="1.1"/>
<rect x="259.50" y="215.00" width="10.20" height="75.00" fill="#fff" stroke="#111" stroke-width="0.9"/>
<line x1="264.60" y1="207.50" x2="264.60" y2="222.50" stroke="#111" stroke-width="0.9"/>
<line x1="261.80" y1="207.50" x2="267.40" y2="207.50" stroke="#111" stroke-width="0.9"/>
<line x1="261.80" y1="222.50" x2="267.40" y2="222.50" stroke="#111" stroke-width="0.9"/>
<rect x="269.70" y="245.50" width="10.20" height="44.50" fill="#0a0a0a"/>
<line x1="274.80" y1="228.75" x2="274.80" y2="245.50" stroke="#111" stroke-width="0.9"/>
<line x1="272.00" y1="228.75" x2="277.60" y2="228.75" stroke="#111" stroke-width="0.9"/>
<rect x="279.90" y="213.25" width="10.20" height="76.75" fill="#a2a2a2" stroke="#1e1e1e" stroke-width="1.1"/>
<rect x="304.50" y="215.00" width="10.20" height="75.00" fill="#fff" stroke="#111" stroke-width="0.9"/>
<line x1="309.60" y1="203.75" x2="309.60" y2="226.25" stroke="#111" stroke-width="0.9"/>
<line x1="306.80" y1="203.75" x2="312.40" y2="203.75" stroke="#111" stroke-width="0.9"/>
<line x1="306.80" y1="226.25" x2="312.40" y2="226.25" stroke="#111" stroke-width="0.9"/>
<rect x="314.70" y="237.50" width="10.20" height="52.50" fill="#0a0a0a"/>
<line x1="319.80" y1="217.00" x2="319.80" y2="237.50" stroke="#111" stroke-width="0.9"/>
<line x1="317.00" y1="217.00" x2="322.60" y2="217.00" stroke="#111" stroke-width="0.9"/>
<rect x="350.50" y="215.00" width="10.20" height="75.00" fill="#fff" stroke="#111" stroke-width="0.9"/>
<line x1="355.60" y1="208.00" x2="355.60" y2="222.00" stroke="#111" stroke-width="0.9"/>
<line x1="352.80" y1="208.00" x2="358.40" y2="208.00" stroke="#111" stroke-width="0.9"/>
<line x1="352.80" y1="222.00" x2="358.40" y2="222.00" stroke="#111" stroke-width="0.9"/>
<rect x="360.70" y="230.75" width="10.20" height="59.25" fill="#0a0a0a"/>
<line x1="365.80" y1="208.75" x2="365.80" y2="230.75" stroke="#111" stroke-width="0.9"/>
<line x1="363.00" y1="208.75" x2="368.60" y2="208.75" stroke="#111" stroke-width="0.9"/>
<rect x="395.50" y="215.00" width="10.20" height="75.00" fill="#fff" stroke="#111" stroke-width="0.9"/>
<line x1="400.60" y1="207.00" x2="400.60" y2="223.00" stroke="#111" stroke-width="0.9"/>
<line x1="397.80" y1="207.00" x2="403.40" y2="207.00" stroke="#111" stroke-width="0.9"/>
<line x1="397.80" y1="223.00" x2="403.40" y2="223.00" stroke="#111" stroke-width="0.9"/>
<rect x="405.70" y="208.25" width="10.20" height="81.75" fill="#0a0a0a"/>
<line x1="410.80" y1="200.00" x2="410.80" y2="208.25" stroke="#111" stroke-width="0.9"/>
<line x1="408.00" y1="200.00" x2="413.60" y2="200.00" stroke="#111" stroke-width="0.9"/>
<text x="138.30" y="246.20" font-size="14" text-anchor="middle" font-weight="bold">*</text>
<text x="184.30" y="236.70" font-size="14" text-anchor="middle" font-weight="bold">*</text>
<text x="229.50" y="234.20" font-size="14" text-anchor="middle" font-weight="bold" textLength="10.50" lengthAdjust="spacingAndGlyphs">**</text>
<text x="274.50" y="229.70" font-size="14" text-anchor="middle" font-weight="bold">*</text>
<text x="131.95" y="309.80" font-size="15" textLength="28.55" lengthAdjust="spacingAndGlyphs" style="stroke-width:0.45px">1/16</text>
<text x="177.20" y="309.80" font-size="15" textLength="21.30" lengthAdjust="spacingAndGlyphs" style="stroke-width:0.45px">1/8</text>
<text x="224.45" y="309.80" font-size="15" textLength="19.80" lengthAdjust="spacingAndGlyphs" style="stroke-width:0.45px">1/4</text>
<text x="269.45" y="309.80" font-size="15" textLength="19.80" lengthAdjust="spacingAndGlyphs" style="stroke-width:0.45px">1/2</text>
<text x="309.95" y="309.80" font-size="15" textLength="19.05" lengthAdjust="spacingAndGlyphs" style="stroke-width:0.45px">1/1</text>
<text x="359.10" y="309.80" font-size="15" textLength="18.90" lengthAdjust="spacingAndGlyphs" style="stroke-width:0.45px">2/1</text>
<text x="400.85" y="309.80" font-size="15" textLength="19.15" lengthAdjust="spacingAndGlyphs" style="stroke-width:0.45px">4/1</text>
<line x1="118.00" y1="332.50" x2="118.00" y2="434.40" stroke="#111" stroke-width="1.25"/>
<line x1="118.00" y1="434.40" x2="380.00" y2="434.40" stroke="#111" stroke-width="1.15"/>
<line x1="115.20" y1="434.40" x2="118.00" y2="434.40" stroke="#111" stroke-width="0.8"/>
<text x="112.50" y="437.20" font-size="8.6" text-anchor="end" textLength="4.40" lengthAdjust="spacingAndGlyphs" style="stroke-width:0.2px">0</text>
<line x1="115.20" y1="419.84" x2="118.00" y2="419.84" stroke="#111" stroke-width="0.8"/>
<text x="112.50" y="422.64" font-size="8.6" text-anchor="end" textLength="8.80" lengthAdjust="spacingAndGlyphs" style="stroke-width:0.2px">20</text>
<line x1="115.20" y1="405.29" x2="118.00" y2="405.29" stroke="#111" stroke-width="0.8"/>
<text x="112.50" y="408.09" font-size="8.6" text-anchor="end" textLength="8.80" lengthAdjust="spacingAndGlyphs" style="stroke-width:0.2px">40</text>
<line x1="115.20" y1="390.73" x2="118.00" y2="390.73" stroke="#111" stroke-width="0.8"/>
<text x="112.50" y="393.53" font-size="8.6" text-anchor="end" textLength="8.80" lengthAdjust="spacingAndGlyphs" style="stroke-width:0.2px">60</text>
<line x1="115.20" y1="376.17" x2="118.00" y2="376.17" stroke="#111" stroke-width="0.8"/>
<text x="112.50" y="378.97" font-size="8.6" text-anchor="end" textLength="8.80" lengthAdjust="spacingAndGlyphs" style="stroke-width:0.2px">80</text>
<line x1="115.20" y1="361.61" x2="118.00" y2="361.61" stroke="#111" stroke-width="0.8"/>
<text x="112.50" y="364.41" font-size="8.6" text-anchor="end" textLength="13.20" lengthAdjust="spacingAndGlyphs" style="stroke-width:0.2px">100</text>
<line x1="115.20" y1="347.06" x2="118.00" y2="347.06" stroke="#111" stroke-width="0.8"/>
<text x="112.50" y="349.86" font-size="8.6" text-anchor="end" textLength="13.20" lengthAdjust="spacingAndGlyphs" style="stroke-width:0.2px">120</text>
<line x1="115.20" y1="332.50" x2="118.00" y2="332.50" stroke="#111" stroke-width="0.8"/>
<text x="112.50" y="335.30" font-size="8.6" text-anchor="end" textLength="13.20" lengthAdjust="spacingAndGlyphs" style="stroke-width:0.2px">140</text>
<line x1="118.00" y1="434.40" x2="118.00" y2="436.90" stroke="#111" stroke-width="0.8"/>
<line x1="155.43" y1="434.40" x2="155.43" y2="436.90" stroke="#111" stroke-width="0.8"/>
<line x1="192.86" y1="434.40" x2="192.86" y2="436.90" stroke="#111" stroke-width="0.8"/>
<line x1="230.29" y1="434.40" x2="230.29" y2="436.90" stroke="#111" stroke-width="0.8"/>
<line x1="267.71" y1="434.40" x2="267.71" y2="436.90" stroke="#111" stroke-width="0.8"/>
<line x1="305.14" y1="434.40" x2="305.14" y2="436.90" stroke="#111" stroke-width="0.8"/>
<line x1="342.57" y1="434.40" x2="342.57" y2="436.90" stroke="#111" stroke-width="0.8"/>
<line x1="380.00" y1="434.40" x2="380.00" y2="436.90" stroke="#111" stroke-width="0.8"/>
<rect x="126.25" y="361.75" width="10.90" height="72.65" fill="#fff" stroke="#111" stroke-width="0.9"/>
<line x1="131.70" y1="355.00" x2="131.70" y2="368.75" stroke="#111" stroke-width="0.9"/>
<line x1="128.90" y1="355.00" x2="134.50" y2="355.00" stroke="#111" stroke-width="0.9"/>
<line x1="128.90" y1="368.75" x2="134.50" y2="368.75" stroke="#111" stroke-width="0.9"/>
<rect x="137.15" y="366.25" width="11.30" height="68.15" fill="#0a0a0a"/>
<line x1="142.60" y1="362.50" x2="142.60" y2="366.25" stroke="#111" stroke-width="0.9"/>
<line x1="139.80" y1="362.50" x2="145.40" y2="362.50" stroke="#111" stroke-width="0.9"/>
<rect x="163.75" y="361.75" width="10.90" height="72.65" fill="#fff" stroke="#111" stroke-width="0.9"/>
<line x1="169.20" y1="355.50" x2="169.20" y2="368.00" stroke="#111" stroke-width="0.9"/>
<line x1="166.40" y1="355.50" x2="172.00" y2="355.50" stroke="#111" stroke-width="0.9"/>
<line x1="166.40" y1="368.00" x2="172.00" y2="368.00" stroke="#111" stroke-width="0.9"/>
<rect x="174.65" y="359.50" width="11.30" height="74.90" fill="#0a0a0a"/>
<line x1="180.10" y1="355.75" x2="180.10" y2="359.50" stroke="#111" stroke-width="0.9"/>
<line x1="177.30" y1="355.75" x2="182.90" y2="355.75" stroke="#111" stroke-width="0.9"/>
<rect x="200.75" y="361.75" width="10.90" height="72.65" fill="#fff" stroke="#111" stroke-width="0.9"/>
<line x1="206.20" y1="352.00" x2="206.20" y2="370.75" stroke="#111" stroke-width="0.9"/>
<line x1="203.40" y1="352.00" x2="209.00" y2="352.00" stroke="#111" stroke-width="0.9"/>
<line x1="203.40" y1="370.75" x2="209.00" y2="370.75" stroke="#111" stroke-width="0.9"/>
<rect x="211.65" y="355.50" width="11.30" height="78.90" fill="#0a0a0a"/>
<line x1="217.10" y1="355.00" x2="217.10" y2="355.50" stroke="#111" stroke-width="0.9"/>
<line x1="214.30" y1="355.00" x2="219.90" y2="355.00" stroke="#111" stroke-width="0.9"/>
<rect x="238.00" y="361.75" width="10.90" height="72.65" fill="#fff" stroke="#111" stroke-width="0.9"/>
<line x1="243.45" y1="352.00" x2="243.45" y2="371.25" stroke="#111" stroke-width="0.9"/>
<line x1="240.65" y1="352.00" x2="246.25" y2="352.00" stroke="#111" stroke-width="0.9"/>
<line x1="240.65" y1="371.25" x2="246.25" y2="371.25" stroke="#111" stroke-width="0.9"/>
<rect x="248.90" y="355.50" width="11.30" height="78.90" fill="#0a0a0a"/>
<line x1="254.35" y1="352.50" x2="254.35" y2="355.50" stroke="#111" stroke-width="0.9"/>
<line x1="251.55" y1="352.50" x2="257.15" y2="352.50" stroke="#111" stroke-width="0.9"/>
<rect x="275.50" y="361.75" width="10.90" height="72.65" fill="#fff" stroke="#111" stroke-width="0.9"/>
<line x1="280.95" y1="342.00" x2="280.95" y2="381.25" stroke="#111" stroke-width="0.9"/>
<line x1="278.15" y1="342.00" x2="283.75" y2="342.00" stroke="#111" stroke-width="0.9"/>
<line x1="278.15" y1="381.25" x2="283.75" y2="381.25" stroke="#111" stroke-width="0.9"/>
<rect x="286.40" y="356.25" width="11.30" height="78.15" fill="#0a0a0a"/>
<line x1="291.85" y1="351.25" x2="291.85" y2="356.25" stroke="#111" stroke-width="0.9"/>
<line x1="289.05" y1="351.25" x2="294.65" y2="351.25" stroke="#111" stroke-width="0.9"/>
<rect x="312.50" y="361.75" width="10.90" height="72.65" fill="#fff" stroke="#111" stroke-width="0.9"/>
<line x1="317.95" y1="346.75" x2="317.95" y2="376.75" stroke="#111" stroke-width="0.9"/>
<line x1="315.15" y1="346.75" x2="320.75" y2="346.75" stroke="#111" stroke-width="0.9"/>
<line x1="315.15" y1="376.75" x2="320.75" y2="376.75" stroke="#111" stroke-width="0.9"/>
<rect x="323.40" y="358.25" width="11.30" height="76.15" fill="#0a0a0a"/>
<line x1="328.85" y1="352.00" x2="328.85" y2="358.25" stroke="#111" stroke-width="0.9"/>
<line x1="326.05" y1="352.00" x2="331.65" y2="352.00" stroke="#111" stroke-width="0.9"/>
<rect x="350.00" y="361.75" width="10.90" height="72.65" fill="#fff" stroke="#111" stroke-width="0.9"/>
<line x1="355.45" y1="357.50" x2="355.45" y2="365.50" stroke="#111" stroke-width="0.9"/>
<line x1="352.65" y1="357.50" x2="358.25" y2="357.50" stroke="#111" stroke-width="0.9"/>
<line x1="352.65" y1="365.50" x2="358.25" y2="365.50" stroke="#111" stroke-width="0.9"/>
<rect x="360.90" y="361.25" width="11.30" height="73.15" fill="#0a0a0a"/>
<line x1="366.35" y1="358.00" x2="366.35" y2="361.25" stroke="#111" stroke-width="0.9"/>
<line x1="363.55" y1="358.00" x2="369.15" y2="358.00" stroke="#111" stroke-width="0.9"/>
<text x="120.70" y="456.30" font-size="15" textLength="27.80" lengthAdjust="spacingAndGlyphs" style="stroke-width:0.45px">1/16</text>
<text x="164.20" y="456.30" font-size="15" textLength="21.30" lengthAdjust="spacingAndGlyphs" style="stroke-width:0.45px">1/8</text>
<text x="199.45" y="456.30" font-size="15" textLength="20.55" lengthAdjust="spacingAndGlyphs" style="stroke-width:0.45px">1/4</text>
<text x="236.70" y="456.30" font-size="15" textLength="20.05" lengthAdjust="spacingAndGlyphs" style="stroke-width:0.45px">1/2</text>
<text x="274.20" y="456.30" font-size="15" textLength="18.80" lengthAdjust="spacingAndGlyphs" style="stroke-width:0.45px">1/1</text>
<text x="312.10" y="456.30" font-size="15" textLength="18.40" lengthAdjust="spacingAndGlyphs" style="stroke-width:0.45px">2/1</text>
<text x="349.10" y="456.30" font-size="15" textLength="19.40" lengthAdjust="spacingAndGlyphs" style="stroke-width:0.45px">4/1</text>
<rect x="393.30" y="330.60" width="9.30" height="8.60" fill="#fff" stroke="#111" stroke-width="1"/>
<rect x="393.30" y="352.20" width="9.20" height="7.80" fill="#0a0a0a" stroke="#111" stroke-width="1"/>
<rect x="393.40" y="372.40" width="8.80" height="7.20" fill="#a2a2a2" stroke="#333" stroke-width="0.9"/>
<text x="414.50" y="339.60" font-size="12" textLength="31.75" lengthAdjust="spacingAndGlyphs">- PTX</text>
<text x="415.00" y="360.00" font-size="12" textLength="31.25" lengthAdjust="spacingAndGlyphs">+PTX</text>
<text x="416.25" y="380.30" font-size="12" textLength="91.25" lengthAdjust="spacingAndGlyphs">+SN of PTX- DC</text>
<text x="1.20" y="481.90" font-size="10.8" font-weight="bold">C</text>
<text x="60.00" y="496.30" font-size="12.5" textLength="30.50" lengthAdjust="spacingAndGlyphs">CD80</text>
<text x="160.75" y="496.30" font-size="12.5" textLength="31.25" lengthAdjust="spacingAndGlyphs">CD83</text>
<text x="60.00" y="593.40" font-size="12.8" textLength="31.00" lengthAdjust="spacingAndGlyphs">CD86</text>
<text x="160.75" y="593.60" font-size="12.8" textLength="31.25" lengthAdjust="spacingAndGlyphs">CD40</text>
<rect x="31.60" y="500.80" width="88.70" height="73.80" fill="none" stroke="#2a2a2a" stroke-width="1.2"/>
<rect x="132.80" y="500.30" width="89.50" height="74.30" fill="none" stroke="#2a2a2a" stroke-width="1.2"/>
<rect x="31.10" y="597.10" width="89.30" height="74.90" fill="none" stroke="#2a2a2a" stroke-width="1.2"/>
<rect x="132.80" y="597.10" width="88.00" height="74.50" fill="none" stroke="#2a2a2a" stroke-width="1.2"/>
<path d="M35.00 573.00 L45.00 571.75 L48.75 568.00 L51.25 560.50 L52.50 553.00 L53.12 548.00 L55.00 546.12 L56.88 544.88 L58.12 539.25 L59.00 530.50 L59.75 520.50 L60.62 510.50 L61.88 509.50 L63.12 510.50 L65.00 515.50 L66.50 523.00 L67.50 529.25 L68.12 535.50 L68.75 544.25 L69.38 551.75 L70.25 559.25 L71.50 565.50 L73.12 570.50 L75.00 573.00 L77.50 574.00" fill="none" stroke="#111" stroke-width="2.2" stroke-dasharray="1.9 1.5" stroke-linejoin="round"/>
<path d="M35.00 574.00 L46.25 573.62 L50.00 572.38 L53.12 570.50 L55.00 568.00 L56.88 563.00 L58.12 558.00 L60.00 554.25 L61.25 548.00 L62.25 540.50 L63.12 533.00 L64.00 523.00 L65.00 513.00 L66.00 505.50 L66.88 504.88 L67.50 510.50 L68.50 519.25 L69.75 524.25 L71.00 524.88 L71.88 533.00 L72.75 541.75 L73.75 548.00 L75.25 550.50 L76.50 558.00 L77.75 564.25 L79.00 569.25 L80.62 572.38 L83.75 574.00" fill="none" stroke="#0a0a0a" stroke-width="2.5" stroke-linejoin="round"/>
<path d="M35.00 573.00 L41.25 571.75 L45.00 569.25 L47.50 566.75 L50.00 564.25 L51.88 559.25 L53.12 556.75 L55.00 555.50 L56.25 548.00 L58.12 543.00 L59.38 541.75 L60.62 535.50 L61.88 526.75 L63.12 516.75 L64.38 508.00 L65.62 504.88 L66.50 504.88 L67.50 509.25 L68.50 518.00 L69.38 526.75 L70.25 535.50 L71.25 544.25 L72.50 550.50 L73.75 553.00 L74.75 560.50 L76.25 566.75 L78.12 571.12 L81.25 573.62 L85.00 574.25" fill="none" stroke="#8d8d8d" stroke-width="2.2" stroke-linejoin="round"/>
<path d="M133.12 565.50 L135.00 563.00 L136.88 558.00 L138.75 550.50 L140.00 541.75 L141.25 531.75 L142.25 521.75 L143.12 513.00 L144.38 508.00 L145.62 504.88 L147.50 504.25 L148.75 506.75 L149.38 513.00 L150.25 523.00 L151.00 533.00 L151.75 543.00 L152.62 551.75 L153.75 559.25 L155.00 564.88 L157.25 569.88 L160.62 572.50 L166.25 573.62" fill="none" stroke="#111" stroke-width="2.2" stroke-dasharray="1.9 1.5" stroke-linejoin="round"/>
<path d="M133.12 566.12 L134.00 569.88 L135.25 571.75 L136.88 569.25 L138.50 563.00 L140.00 554.25 L141.50 544.25 L143.12 533.00 L144.38 523.00 L145.62 514.25 L146.88 507.38 L148.12 504.88 L149.00 509.25 L148.75 516.75 L147.50 522.38 L148.75 524.25 L150.62 523.00 L151.88 525.50 L153.12 529.25 L155.00 531.75 L156.25 535.50 L158.12 536.75 L159.38 540.50 L160.00 545.50 L161.25 548.00 L162.50 553.00 L164.00 559.25 L165.62 565.50 L166.88 570.50 L168.75 573.00 L171.25 574.00" fill="none" stroke="#0a0a0a" stroke-width="2.5" stroke-linejoin="round"/>
<path d="M133.12 568.00 L134.38 572.38 L135.62 573.62 L137.25 571.12 L138.75 565.50 L140.25 556.75 L141.88 546.75 L143.50 535.50 L144.75 525.50 L146.00 516.75 L147.25 509.25 L148.50 505.50 L149.38 509.25 L150.25 515.50 L151.25 521.75 L152.50 528.00 L154.00 533.00 L155.62 538.00 L157.50 544.25 L159.00 549.25 L160.62 551.75 L162.25 556.75 L163.75 561.75 L165.25 566.75 L166.88 571.12 L168.75 573.25 L172.50 574.00" fill="none" stroke="#8d8d8d" stroke-width="2.2" stroke-linejoin="round"/>
<path d="M35.62 670.62 L36.88 666.25 L38.12 657.50 L39.38 647.50 L40.62 637.50 L41.88 627.50 L43.12 617.50 L44.38 610.00 L45.62 605.00 L46.62 602.75 L47.50 605.00 L48.12 610.00 L48.75 615.00 L50.00 615.62 L51.25 613.75 L52.50 607.50 L53.50 601.88 L54.38 605.00 L55.00 612.50 L55.62 620.00 L56.50 625.00 L57.50 630.00 L59.00 637.50 L60.62 645.00 L62.50 648.12 L64.38 651.25 L66.25 655.62 L68.12 660.00 L70.00 664.38 L71.88 668.12 L73.75 670.62 L76.25 671.25" fill="none" stroke="#111" stroke-width="2.2" stroke-dasharray="1.9 1.5" stroke-linejoin="round"/>
<path d="M37.50 671.25 L40.00 668.75 L41.25 665.00 L43.12 661.88 L45.00 658.75 L46.25 653.75 L47.50 652.50 L48.75 655.00 L50.00 647.50 L51.00 638.75 L51.50 630.00 L52.25 628.75 L53.12 632.50 L54.38 635.00 L55.00 643.12 L56.25 631.25 L57.25 625.00 L58.50 623.75 L59.38 627.50 L60.00 632.50 L60.62 641.25 L61.88 636.25 L63.12 631.25 L64.38 625.00 L65.25 616.25 L66.00 607.50 L66.88 601.88 L68.12 602.50 L68.75 610.00 L69.00 617.50 L69.75 621.25 L70.62 626.25 L71.50 635.00 L72.25 645.00 L73.12 655.00 L74.00 663.75 L75.00 668.75 L76.88 671.00" fill="none" stroke="#0a0a0a" stroke-width="2.5" stroke-linejoin="round"/>
<path d="M37.50 671.50 L41.25 670.00 L43.75 666.25 L45.62 662.50 L47.50 657.50 L48.75 652.50 L50.00 648.75 L51.25 643.75 L52.25 636.25 L53.12 633.75 L54.38 637.50 L55.62 636.25 L56.50 632.50 L57.75 631.25 L59.00 635.00 L60.00 638.12 L61.25 637.50 L62.25 632.50 L63.50 630.00 L64.75 625.00 L65.62 617.50 L66.50 608.75 L67.50 602.50 L69.38 601.88 L70.25 606.25 L70.75 613.75 L71.50 622.50 L72.50 630.00 L73.25 638.75 L74.00 648.75 L74.75 660.00 L75.62 667.50 L77.50 670.62 L82.50 671.50" fill="none" stroke="#8d8d8d" stroke-width="2.2" stroke-linejoin="round"/>
<path d="M135.00 668.75 L136.88 666.88 L138.75 662.50 L140.00 656.25 L141.25 648.75 L142.25 641.25 L143.12 632.50 L144.00 625.00 L145.62 621.88 L147.50 621.25 L148.75 618.75 L149.38 613.75 L149.75 607.50 L150.00 601.88 L150.62 606.25 L151.00 611.25 L152.25 614.38 L154.00 617.50 L155.00 620.00 L155.62 627.50 L156.25 635.00 L157.25 642.50 L158.12 650.00 L159.38 657.50 L161.00 663.75 L162.75 668.12 L165.62 670.25 L168.75 671.00" fill="none" stroke="#111" stroke-width="2.2" stroke-dasharray="1.9 1.5" stroke-linejoin="round"/>
<path d="M137.50 671.25 L140.62 670.00 L142.50 667.50 L144.38 663.12 L146.25 656.25 L147.75 647.50 L149.00 637.50 L150.25 627.50 L151.50 617.50 L152.75 608.75 L154.00 602.50 L155.00 601.25 L155.75 606.25 L156.25 613.75 L156.88 618.12 L158.12 620.00 L158.75 626.25 L159.75 633.75 L160.62 640.00 L161.50 643.75 L162.50 650.00 L163.75 656.25 L165.25 662.50 L166.88 667.50 L169.38 670.25 L172.50 671.25" fill="none" stroke="#0a0a0a" stroke-width="2.5" stroke-linejoin="round"/>
<path d="M136.25 671.25 L140.00 670.00 L142.50 666.88 L144.75 661.88 L146.50 655.00 L148.12 646.25 L149.38 636.25 L150.62 626.25 L151.88 616.25 L153.12 607.50 L154.38 601.88 L155.62 600.62 L156.50 605.00 L157.25 612.50 L158.25 620.00 L159.50 627.50 L160.75 635.00 L162.00 642.50 L163.25 650.00 L164.75 657.50 L166.25 663.75 L168.12 668.12 L170.62 670.38 L175.00 671.25" fill="none" stroke="#8d8d8d" stroke-width="2.2" stroke-linejoin="round"/>
<line x1="31.3" y1="684.7" x2="44.8" y2="684.7" stroke="#111" stroke-width="2" stroke-dasharray="2 1.7"/>
<text x="45.60" y="688.50" font-size="11.3" textLength="14.80" lengthAdjust="spacingAndGlyphs">DC</text>
<line x1="76.25" y1="684.90" x2="88.30" y2="684.90" stroke="#0a0a0a" stroke-width="2"/>
<text x="89.60" y="688.50" font-size="11.3" textLength="48.00" lengthAdjust="spacingAndGlyphs">DC+T+SA</text>
<line x1="145.00" y1="684.90" x2="157.50" y2="684.90" stroke="#8d8d8d" stroke-width="2.2"/>
<text x="162.5" y="688.5" font-size="11.3" textLength="63.7" lengthAdjust="spacingAndGlyphs">DC<tspan font-size="8">PTX</tspan>+T+SA</text>
<text x="283.70" y="480.30" font-size="10.8" font-weight="bold">D</text>
<line x1="327.50" y1="505.50" x2="327.50" y2="638.40" stroke="#111" stroke-width="1"/>
<line x1="327.50" y1="638.40" x2="487.00" y2="638.40" stroke="#111" stroke-width="1"/>
<line x1="324.30" y1="638.40" x2="327.50" y2="638.40" stroke="#111" stroke-width="0.8"/>
<text x="321.20" y="641.20" font-size="8" text-anchor="end" font-weight="bold" textLength="4.40" lengthAdjust="spacingAndGlyphs" style="stroke-width:0.15px">0</text>
<line x1="324.30" y1="621.79" x2="327.50" y2="621.79" stroke="#111" stroke-width="0.8"/>
<text x="321.20" y="624.59" font-size="8" text-anchor="end" font-weight="bold" textLength="4.40" lengthAdjust="spacingAndGlyphs" style="stroke-width:0.15px">2</text>
<line x1="324.30" y1="605.17" x2="327.50" y2="605.17" stroke="#111" stroke-width="0.8"/>
<text x="321.20" y="607.97" font-size="8" text-anchor="end" font-weight="bold" textLength="4.40" lengthAdjust="spacingAndGlyphs" style="stroke-width:0.15px">4</text>
<line x1="324.30" y1="588.56" x2="327.50" y2="588.56" stroke="#111" stroke-width="0.8"/>
<text x="321.20" y="591.36" font-size="8" text-anchor="end" font-weight="bold" textLength="4.40" lengthAdjust="spacingAndGlyphs" style="stroke-width:0.15px">6</text>
<line x1="324.30" y1="571.95" x2="327.50" y2="571.95" stroke="#111" stroke-width="0.8"/>
<text x="321.20" y="574.75" font-size="8" text-anchor="end" font-weight="bold" textLength="4.40" lengthAdjust="spacingAndGlyphs" style="stroke-width:0.15px">8</text>
<line x1="324.30" y1="555.34" x2="327.50" y2="555.34" stroke="#111" stroke-width="0.8"/>
<text x="321.20" y="558.14" font-size="8" text-anchor="end" font-weight="bold" textLength="8.80" lengthAdjust="spacingAndGlyphs" style="stroke-width:0.15px">10</text>
<line x1="324.30" y1="538.73" x2="327.50" y2="538.73" stroke="#111" stroke-width="0.8"/>
<text x="321.20" y="541.52" font-size="8" text-anchor="end" font-weight="bold" textLength="8.80" lengthAdjust="spacingAndGlyphs" style="stroke-width:0.15px">12</text>
<line x1="324.30" y1="522.11" x2="327.50" y2="522.11" stroke="#111" stroke-width="0.8"/>
<text x="321.20" y="524.91" font-size="8" text-anchor="end" font-weight="bold" textLength="8.80" lengthAdjust="spacingAndGlyphs" style="stroke-width:0.15px">14</text>
<line x1="324.30" y1="505.50" x2="327.50" y2="505.50" stroke="#111" stroke-width="0.8"/>
<text x="321.20" y="508.30" font-size="8" text-anchor="end" font-weight="bold" textLength="8.80" lengthAdjust="spacingAndGlyphs" style="stroke-width:0.15px">16</text>
<line x1="367.00" y1="638.40" x2="367.00" y2="640.70" stroke="#111" stroke-width="0.8"/>
<line x1="406.50" y1="638.40" x2="406.50" y2="640.70" stroke="#111" stroke-width="0.8"/>
<line x1="447.00" y1="638.40" x2="447.00" y2="640.70" stroke="#111" stroke-width="0.8"/>
<line x1="487.00" y1="638.40" x2="487.00" y2="640.70" stroke="#111" stroke-width="0.8"/>
<text x="300.70" y="650.30" font-size="12.2" textLength="146.80" lengthAdjust="spacingAndGlyphs" transform="rotate(-90 300.70 650.30)">cells in the lower well ( %)</text>
<rect x="336.25" y="615.50" width="20.75" height="22.90" fill="#fff" stroke="#111" stroke-width="1.3"/>
<line x1="346.60" y1="614.70" x2="346.60" y2="616.30" stroke="#111" stroke-width="0.9"/>
<line x1="344.10" y1="614.70" x2="349.10" y2="614.70" stroke="#111" stroke-width="0.9"/>
<line x1="344.10" y1="616.30" x2="349.10" y2="616.30" stroke="#111" stroke-width="0.9"/>
<rect x="376.75" y="613" width="20.25" height="25.40" fill="#0a0a0a"/>
<line x1="386.90" y1="607.00" x2="386.90" y2="613.00" stroke="#111" stroke-width="0.9"/>
<line x1="384.40" y1="607.00" x2="389.40" y2="607.00" stroke="#111" stroke-width="0.9"/>
<rect x="416.75" y="545.50" width="20.25" height="92.90" fill="#fff" stroke="#111" stroke-width="1.3"/>
<line x1="427.00" y1="515.00" x2="427.00" y2="575.75" stroke="#111" stroke-width="0.9"/>
<line x1="424.50" y1="515.00" x2="429.50" y2="515.00" stroke="#111" stroke-width="0.9"/>
<line x1="424.50" y1="575.75" x2="429.50" y2="575.75" stroke="#111" stroke-width="0.9"/>
<rect x="456.25" y="550.75" width="20.75" height="87.65" fill="#0a0a0a"/>
<line x1="467.00" y1="537.50" x2="467.00" y2="550.75" stroke="#111" stroke-width="0.9"/>
<line x1="464.50" y1="537.50" x2="469.50" y2="537.50" stroke="#111" stroke-width="0.9"/>
<text x="331.25" y="656.70" font-size="10" textLength="26.25" lengthAdjust="spacingAndGlyphs">T+DC</text>
<text x="369.5" y="656.7" font-size="10" textLength="41.75" lengthAdjust="spacingAndGlyphs">T+DC<tspan dy="3.3" font-size="6.6" font-weight="bold">PTX</tspan></text>
<text x="415.00" y="656.50" font-size="10" textLength="27.00" lengthAdjust="spacingAndGlyphs">T+DC</text>
<text x="457.5" y="656.5" font-size="10" textLength="42" lengthAdjust="spacingAndGlyphs">T+DC<tspan dy="3.3" font-size="6.6" font-weight="bold">PTX</tspan></text>
<line x1="336.25" y1="664.30" x2="399.50" y2="664.30" stroke="#111" stroke-width="1.4"/>
<line x1="418.75" y1="664.50" x2="476.25" y2="664.50" stroke="#111" stroke-width="1.4"/>
<text x="342.50" y="678.30" font-size="12" textLength="43.75" lengthAdjust="spacingAndGlyphs">medium</text>
<text x="422.00" y="678.70" font-size="12.3" textLength="47.50" lengthAdjust="spacingAndGlyphs">CXCL12</text>
</svg>
</body></html>
